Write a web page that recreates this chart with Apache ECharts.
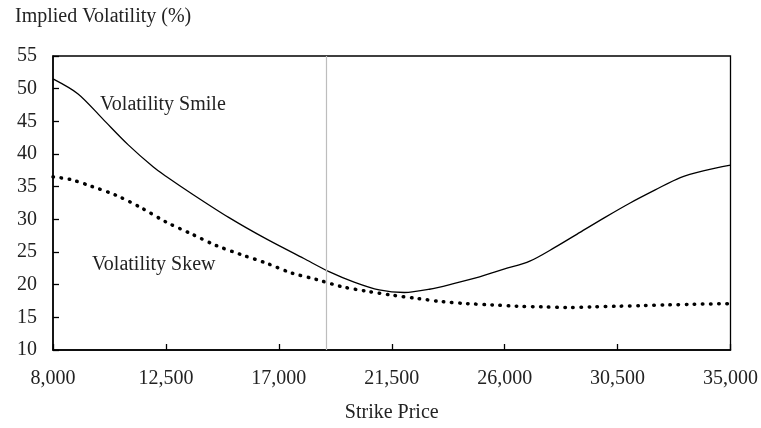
<!DOCTYPE html>
<html>
<head>
<meta charset="utf-8">
<script src="https://cdn.jsdelivr.net/npm/echarts@6/dist/echarts.min.js"></script>
<style>
  html, body { margin: 0; padding: 0; background: #fff; }
  #chart { width: 761px; height: 428px; }
</style>
</head>
<body>
<div id="chart"></div>
<script>
// strike prices and implied vols
var smileStrikes = [8000, 9000, 10000, 11000, 12000, 12500, 13500, 15000, 16500, 18000, 19000, 20000, 21000, 22000, 23000, 24000, 25000, 26000, 27000, 28000, 29000, 30000, 31000, 32000, 33000, 34000, 35000];
var smileVols    = [51.5, 49.2, 45.3, 41.4, 38.0, 36.6, 34.0, 30.3, 27.0, 24.0, 22.0, 20.4, 19.2, 18.8, 19.3, 20.2, 21.2, 22.4, 23.6, 25.7, 28.0, 30.3, 32.5, 34.5, 36.4, 37.5, 38.3];

var skewStrikes = [8000, 8700, 9500, 10500, 11500, 12500, 13500, 14500, 15500, 16500, 17500, 18500, 19500, 20500, 21500, 22500, 23500, 24500, 25500, 26500, 27500, 28500, 29500, 30500, 31500, 32500, 33500, 35000];
var skewVols    = [36.5, 36.1, 35.1, 33.7, 31.8, 29.6, 27.8, 26.0, 24.6, 23.3, 21.8, 20.8, 19.7, 19.0, 18.4, 17.9, 17.4, 17.1, 16.9, 16.7, 16.6, 16.5, 16.6, 16.7, 16.8, 16.9, 17.0, 17.1];

var spotLine = 18900;

function pairs(xs, ys) {
  var out = [];
  for (var i = 0; i < xs.length; i++) {
    out.push([xs[i], ys[i]]);
  }
  return out;
}

var font = 'Liberation Serif';
var myChart = echarts.init(document.getElementById('chart'));
var option = {
  animation: false,
  grid: { left: 53, right: 30, top: 56, bottom: 76, show: true, borderColor: '#000', borderWidth: 1.3, backgroundColor: 'transparent' },
  xAxis: {
    type: 'value', min: 8000, max: 35000, interval: 4500,
    name: 'Strike Price', nameLocation: 'middle', nameGap: 53,
    nameTextStyle: { color: '#222', fontFamily: font, fontSize: 20 },
    axisLine: { show: true, lineStyle: { color: '#000', width: 1.5 } },
    axisTick: { show: true, inside: true, length: 6, lineStyle: { color: '#000', width: 1.3 } },
    axisLabel: { color: '#222', fontFamily: font, fontSize: 20, margin: 19,
      formatter: function (v) { return v.toLocaleString('en-US'); } },
    splitLine: { show: false }
  },
  yAxis: {
    type: 'value', min: 10, max: 55, interval: 5,
    axisLine: { show: true, lineStyle: { color: '#000', width: 1.5 } },
    axisTick: { show: true, inside: true, length: 6, lineStyle: { color: '#000', width: 1.3 } },
    axisLabel: { color: '#222', fontFamily: font, fontSize: 20, margin: 16 },
    splitLine: { show: false }
  },
  graphic: [
    { type: 'text', left: 15, top: 7, style: { text: 'Implied Volatility (%)', fill: '#222', font: '20px "Liberation Serif"' } },
    { type: 'text', left: 100, top: 95, style: { text: 'Volatility Smile', fill: '#222', font: '20px "Liberation Serif"' } },
    { type: 'text', left: 92, top: 255, style: { text: 'Volatility Skew', fill: '#222', font: '20px "Liberation Serif"' } }
  ],
  series: [
    {
      name: 'Volatility Smile', type: 'line', smooth: 0.3, showSymbol: false,
      data: pairs(smileStrikes, smileVols),
      lineStyle: { color: '#000', width: 1.3 },
      markLine: {
        silent: true, symbol: 'none', label: { show: false },
        lineStyle: { color: '#bdbdbd', width: 1.2, type: 'solid' },
        data: [{ xAxis: spotLine }]
      }
    },
    {
      name: 'Volatility Skew', type: 'line', smooth: 0.3, showSymbol: false,
      data: pairs(skewStrikes, skewVols),
      lineStyle: { color: '#000', width: 3.5, type: [0.5, 7.6], cap: 'round' }
    }
  ]
};
myChart.setOption(option);
</script>
</body>
</html>
